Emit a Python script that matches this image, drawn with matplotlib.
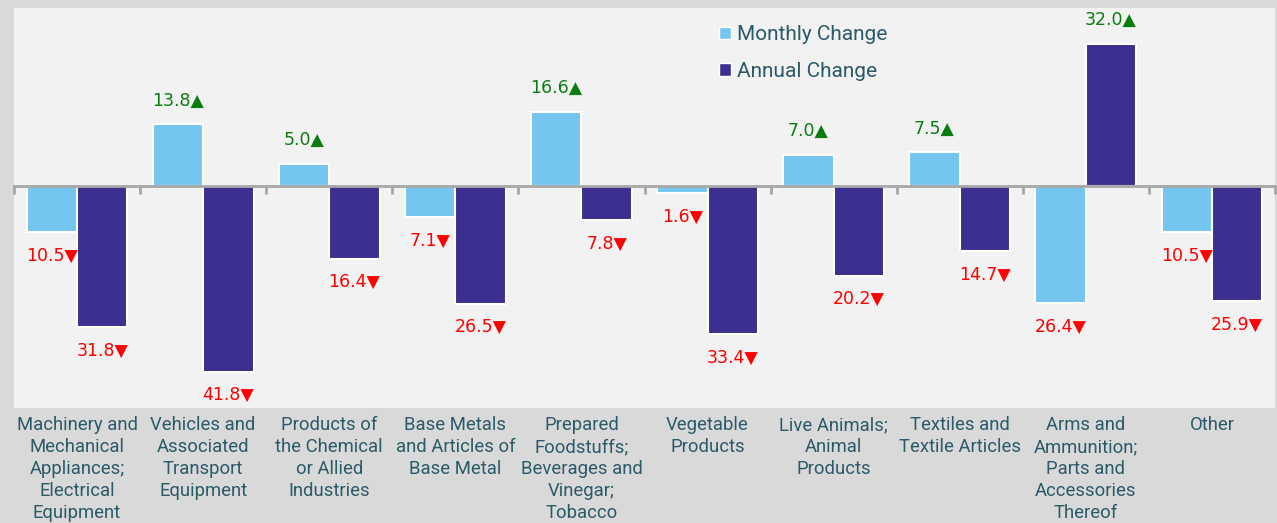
import numpy as np
import matplotlib
matplotlib.use("Agg")
import matplotlib.pyplot as plt
from matplotlib.patches import Patch

categories = [
    "Machinery and\nMechanical\nAppliances;\nElectrical\nEquipment",
    "Vehicles and\nAssociated\nTransport\nEquipment",
    "Products of\nthe Chemical\nor Allied\nIndustries",
    "Base Metals\nand Articles of\nBase Metal",
    "Prepared\nFoodstuffs;\nBeverages and\nVinegar;\nTobacco",
    "Vegetable\nProducts",
    "Live Animals;\nAnimal\nProducts",
    "Textiles and\nTextile Articles",
    "Arms and\nAmmunition;\nParts and\nAccessories\nThereof",
    "Other",
]
monthly = [-10.5, 13.8, 5.0, -7.1, 16.6, -1.6, 7.0, 7.5, -26.4, -10.5]
annual = [-31.8, -41.8, -16.4, -26.5, -7.8, -33.4, -20.2, -14.7, 32.0, -25.9]
series_names = ["Monthly Change", "Annual Change"]

C_MONTH = "#74c6f0"
C_ANNUAL = "#3b2f8f"
TXT = "#2b5a68"
GREEN = "#0a7d12"
RED = "#ff0000"
FONT = ["Roboto", "DejaVu Sans"]

fig = plt.figure(figsize=(12.77, 5.23), dpi=100)
fig.patch.set_facecolor("#d9d9d9")
ax = fig.add_axes([14/1277, 1-408/523, (1275-14)/1277, 400/523])
ax.set_facecolor("#f2f2f2")

x = np.arange(len(categories))
w = 0.4
ax.bar(x - 0.2, monthly, w, color=C_MONTH, edgecolor="white", linewidth=1.5, zorder=2)
ax.bar(x + 0.2, annual, w, color=C_ANNUAL, edgecolor="white", linewidth=1.5, zorder=2)

ax.set_xlim(-0.5, len(categories) - 0.5)
ax.set_ylim(-50, 40)

for s in ["top", "right", "left"]:
    ax.spines[s].set_visible(False)
ax.spines["bottom"].set_position(("data", 0))
ax.spines["bottom"].set_color("#a6a6a6")
ax.spines["bottom"].set_linewidth(2)
ax.spines["bottom"].set_zorder(3)
ax.set_yticks([])
ax.set_xticks([])
ax.set_xticks(np.arange(-0.5, len(categories)), minor=True)
ax.tick_params(axis="x", which="minor", length=6, width=2, color="#a6a6a6", direction="out")

sec = ax.secondary_xaxis(0.0)
sec.set_xticks(x, labels=categories)
sec.tick_params(length=0, pad=6, labelsize=13.3, labelcolor=TXT)
for lab in sec.get_xticklabels():
    lab.set_fontfamily(FONT)
    lab.set_linespacing(1.28)
sec.spines["bottom"].set_visible(False)

def label(xpos, v):
    if v >= 0:
        txt, col, off = f"{v:.1f}\u25B2", GREEN, 17
    else:
        txt, col, off = f"{abs(v):.1f}\u25BC", RED, -17
    ax.annotate(txt, (xpos, v), xytext=(0, off), textcoords="offset points",
                ha="center", va="center", color=col, fontsize=12.5,
                family="DejaVu Sans")

for xi, v in zip(x - 0.2, monthly):
    label(xi, v)
for xi, v in zip(x + 0.2, annual):
    label(xi, v)

handles = [Patch(facecolor=C_MONTH, edgecolor="white", linewidth=1),
           Patch(facecolor=C_ANNUAL, edgecolor="white", linewidth=1)]
leg = ax.legend(handles, series_names, loc="upper left",
                bbox_to_anchor=(709/1277, 1-15/523), bbox_transform=fig.transFigure,
                frameon=False, handlelength=0.55, handleheight=0.55,
                handletextpad=0.3, labelspacing=0.85, borderpad=0,
                prop={"family": FONT, "size": 15})
for t in leg.get_texts():
    t.set_color(TXT)

fig.savefig("out.png", dpi=100, facecolor=fig.get_facecolor())
